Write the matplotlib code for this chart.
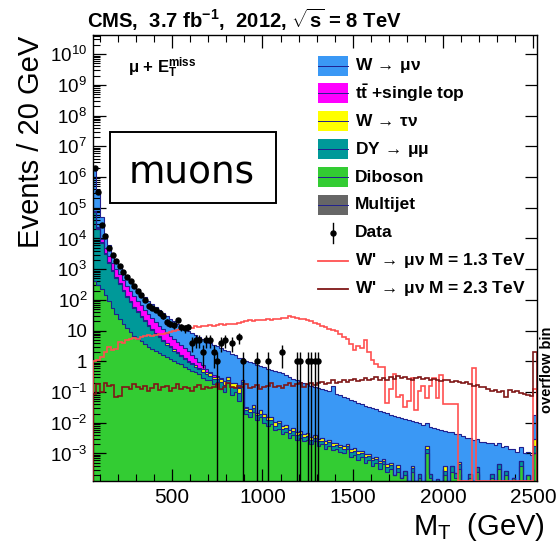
import numpy as np
import matplotlib
matplotlib.use("Agg")
import matplotlib.pyplot as plt
from matplotlib.patches import Rectangle
from matplotlib.lines import Line2D
from matplotlib.ticker import (FixedLocator, FixedFormatter, MultipleLocator,
                               LogLocator, NullFormatter)

plt.rcParams['font.family'] = ['Liberation Sans', 'DejaVu Sans']
plt.rcParams['mathtext.fontset'] = 'custom'
plt.rcParams['mathtext.rm'] = 'Liberation Sans'
plt.rcParams['mathtext.it'] = 'Liberation Sans:italic'
plt.rcParams['mathtext.bf'] = 'Liberation Sans:bold'
plt.rcParams['mathtext.default'] = 'regular'

NA = np.nan

# 20 GeV bins from 60 to 2500 GeV, plus the overflow bin shown at 2500-2520 GeV
bin_edges = np.append(np.arange(60, 2501, 20), 2520)

# Expected events per bin, stored as log10(events); NA = empty bin.
# Rows of ten bins: 60, 260, 460, 660, 860, 1060, 1260, 1460, 1660, 1860, 2060, 2260, 2460(+overflow)
wmunu_log = [
    6.23, 5.47, 4.61, 3.97, 3.53, 3.20, 3.00, 2.82, 2.66, 2.53,
    2.38, 2.25, 2.13, 2.01, 1.89, 1.78, 1.69, 1.585, 1.50, 1.40,
    1.32, 1.24, 1.17, 1.10, 1.02, 0.95, 0.885, 0.83, 0.78, 0.71,
    0.66, 0.61, 0.55, 0.50, 0.44, 0.39, 0.33, 0.25, 0.20, 0.13,
    0.07, 0.00, -0.01, -0.04, -0.08, -0.12, -0.16, -0.19, -0.26, -0.28,
    -0.32, -0.37, -0.40, -0.47, -0.52, -0.58, -0.62, -0.68, -0.72, -0.75,
    -0.80, -0.84, -0.87, -0.92, -0.94, -0.97, -0.82, -1.07, -1.12, -1.17,
    -1.20, -1.26, -1.30, -1.36, -1.40, -1.45, -1.50, -1.53, -1.58, -1.62,
    -1.66, -1.70, -1.76, -1.78, -1.82, -1.86, -1.89, -1.91, -1.96, -1.99,
    -2.02, -2.06, -2.09, -2.14, -2.18, -2.22, -2.25, -2.30, -2.31, -2.35,
    -2.38, -2.42, -2.44, -2.50, -2.53, -2.55, -2.58, -2.63, -2.64, -2.67,
    -2.70, -2.73, -2.75, -2.80, -2.83, -2.86, -2.90, -2.94, -2.95, -2.98,
    -3.02, -3.06, -1.82,
]
ttbar_log = [
    3.50, 3.42, 3.30, 3.14, 2.97, 2.80, 2.64, 2.51, 2.35, 2.20,
    2.04, 1.89, 1.72, 1.57, 1.42, 1.29, 1.14, 1.02, 0.90, 0.78,
    0.67, 0.55, 0.45, 0.34, 0.24, 0.13, 0.03, -0.13, -0.30, -0.49,
    -0.70, -0.93, -1.80, -1.50, -1.60, -1.70, -1.80, -2.00, -2.00, -2.20,
    -2.20, -2.50, -3.00, NA, NA, NA, NA, NA, NA, NA,
] + [NA] * 73
wtaunu_log = [
    3.60, 3.20, 2.80, 2.45, 2.15, 1.90, 1.65, 1.45, 1.25, 1.05,
    0.88, 0.70, 0.55, 0.40, 0.25, 0.10, 0.00, -0.15, -0.25, -0.35,
    -0.45, -0.55, -0.65, -0.75, -0.85, -0.92, -1.00, -1.05, -1.10, -1.15,
    -1.00, -1.20, -1.05, -1.30, -1.30, -1.20, -1.30, -1.25, -1.30, -1.35,
    -1.30, -1.40, -2.30, -2.30, -2.20, -2.40, -2.20, -2.30, -2.50, -2.50,
    -2.60, -2.70, -2.80, -2.80, -2.90, -2.90, -3.00, -3.00, -3.10, -3.10,
    -3.20, -3.20, -3.30, -3.30, -3.35, -3.40, -3.40, -3.45, -3.50, -3.50,
    -3.55, -3.60, -3.60, -3.65, -3.70, -3.75, -3.80, -3.85, -3.90, -3.95,
    -4.00, -4.00, -4.10, NA, -4.10, NA, NA, NA, -4.20, NA,
    NA, NA, -3.50, NA, -4.10, NA, NA, -3.90, NA, NA,
    NA, -4.00, NA, NA, NA, NA, NA, NA, NA, NA,
    NA, NA, NA, NA, NA, NA, NA, NA, NA, NA,
    NA, NA, -2.90,
]
dy_log = [
    4.85, 4.29, 3.84, 3.48, 3.17, 2.92, 2.69, 2.47, 2.26, 2.05,
    1.87, 1.69, 1.53, 1.38, 1.21, 1.05, 0.90, 0.76, 0.62, 0.47,
    0.33, 0.21, 0.08, -0.04, -0.16, -0.28, -0.42, -0.53, -0.65, -0.76,
    -0.75, -0.85, -1.08, -1.05, -1.25, -1.10, -1.15, -1.30, -1.20, -1.30,
    -1.40, -1.50, -2.20, -2.20, -2.10, -2.30, -2.40, -2.30, -2.40, -2.50,
    -2.60, -2.50, -2.70, -2.80, -2.80, -2.80, -2.90, -2.90, -3.00, -3.00,
    -3.10, -3.10, -3.10, -3.20, -3.20, -3.20, -3.30, -3.30, -3.35, -3.40,
    -3.40, -3.45, -3.50, -3.50, -3.60, -3.60, -3.70, -3.70, -3.80, -3.80,
    -3.90, -4.00, -4.00, NA, -4.10, NA, -4.20, NA, -4.10, NA,
    -4.30, NA, -3.40, -4.20, NA, -4.30, NA, -4.10, NA, -3.90,
    -4.10, -3.90, NA, NA, -4.20, NA, -4.00, NA, NA, NA,
    -4.30, NA, -3.90, NA, -4.10, NA, NA, NA, -3.80, NA,
    NA, NA, -3.10,
]
diboson_log = [
    2.60, 2.50, 2.35, 2.15, 1.95, 1.75, 1.55, 1.38, 1.22, 1.08,
    0.95, 0.84, 0.74, 0.65, 0.56, 0.48, 0.40, 0.33, 0.26, 0.20,
    0.14, 0.08, 0.02, -0.04, -0.10, -0.17, -0.24, -0.30, -0.36, -0.42,
    -0.55, -0.62, -0.60, -0.75, -0.68, -0.90, -1.00, -0.70, -1.10, -1.00,
    -1.30, -0.75, -1.70, -1.80, -1.65, -1.90, -1.80, -2.00, -2.10, -2.05,
    -2.25, -2.20, -2.35, -2.30, -2.50, -2.40, -2.55, -2.50, -2.60, -2.55,
    -2.70, -2.60, -2.75, -2.70, -2.85, -2.75, -2.90, -2.85, -2.95, -3.00,
    -2.85, -3.10, -3.05, -3.20, -3.10, -3.30, -3.20, -3.40, -3.30, -3.50,
    -3.35, -3.60, -3.50, -3.70, -3.60, -3.80, -3.70, -3.90, -3.60, -3.90,
    -3.80, -4.20, -3.00, -3.80, NA, -4.00, NA, -3.70, NA, -3.60,
    -3.80, -3.50, NA, NA, -3.80, NA, -3.60, NA, -4.00, NA,
    -3.80, NA, -3.50, NA, -3.70, NA, -3.80, NA, -3.40, NA,
    -3.70, NA, -3.00,
]
multijet_log = [-4.5, -4.8] + [NA] * 121

# W' signal shapes, log10(events)
wprime13_log = [
    0.00, 0.05, 0.14, 0.30, 0.47, 0.36, 0.40, 0.63, 0.60, 0.68,
    0.72, 0.75, 0.74, 0.78, 0.82, 0.85, 0.83, 0.86, 0.88, 0.90,
    0.92, 0.95, 0.98, 1.02, 1.06, 1.05, 1.08, 1.10, 1.14, 1.12,
    1.15, 1.14, 1.17, 1.16, 1.18, 1.20, 1.19, 1.22, 1.23, 1.21,
    1.25, 1.28, 1.30, 1.34, 1.32, 1.34, 1.36, 1.34, 1.37, 1.36,
    1.39, 1.38, 1.40, 1.42, 1.46, 1.44, 1.42, 1.39, 1.37, 1.34,
    1.32, 1.25, 1.20, 1.15, 1.12, 1.06, 1.02, 0.98, 0.90, 0.80,
    0.74, 0.55, 0.36, 0.50, 0.42, 0.68, 0.30, 0.03, -0.10, -0.19,
    -0.20, -1.37, -0.90, -0.40, -1.16, -1.10, -1.50, -1.30, -0.55, -1.60,
    -0.95, -0.80, -1.20, -0.80, -0.55, -1.20, -0.46, -1.40, -1.40, -1.40,
    -1.40, NA, NA, NA, NA, -0.23, NA, NA, NA, NA,
    NA, NA, NA, NA, NA, NA, NA, NA, NA, NA,
    NA, NA, -0.90,
]
wprime23_log = [
    -1.05, -0.75, -1.00, -0.72, -0.80, -0.78, -1.15, -1.12, -0.85, -0.82,
    -0.90, -0.75, -0.85, -0.90, -0.80, -0.95, -0.88, -0.75, -0.92, -0.85,
    -0.80, -0.95, -0.88, -0.75, -0.90, -0.82, -0.86, -0.95, -0.85, -0.78,
    -0.90, -0.82, -0.88, -0.85, -0.75, -0.90, -0.85, -0.72, -0.82, -0.88,
    -0.80, -0.85, -0.75, -0.88, -0.82, -0.78, -0.90, -0.85, -0.80, -0.72,
    -0.85, -0.80, -0.88, -0.78, -0.72, -0.80, -0.75, -0.70, -0.82, -0.75,
    -0.70, -0.78, -0.72, -0.68, -0.75, -0.70, -0.62, -0.72, -0.66, -0.60,
    -0.68, -0.62, -0.58, -0.65, -0.60, -0.55, -0.62, -0.57, -0.52, -0.60,
    -0.55, -0.62, -0.50, -0.58, -0.48, -0.55, -0.50, -0.56, -0.60, -0.55,
    -0.52, -0.58, -0.55, -0.62, -0.58, -0.60, -0.65, -0.60, -0.62, -0.68,
    -0.63, -0.66, -0.72, -0.68, -0.75, -0.80, -0.78, -0.85, -0.82, -0.90,
    -0.95, -0.92, -1.00, -0.95, -1.15, -0.92, -1.00, -0.98, -1.02, -1.05,
    -1.10, -1.12, 0.30,
]

# Observed events per bin
data_counts = [
    1900000, 320000, 28000, 11700, 5000, 2800, 1860, 1230, 810, 560,
    400, 275, 190, 141, 98, 63, 55, 46, 37, 30,
    19, 17, 15, 22, 13, 12, 13, 4, 5, 5,
    2, 5, 5, 2, 1, 4, 5, 0, 4, 0,
    6, 1, 0, 0, 0, 1, 0, 0, 1, 0,
    0, 0, 2, 0, 0, 0, 1, 1, 0, 1,
    1, 1, 1, 0, 0, 0, 0, 0, 0, 0,
] + [0] * 53


def events(log_values):
    return np.nan_to_num(10.0 ** np.asarray(log_values, dtype=float), nan=0.0)


W, H = 558, 548
fig = plt.figure(figsize=(W / 100, H / 100), dpi=100)
ax = fig.add_axes([92.7 / W, 1 - 480.7 / H, (537 - 92.7) / W, (480.7 - 35) / H])

YLO, YHI = 1.3e-4, 4.2e10
ax.set_xlim(60, 2520)
ax.set_yscale('log')
ax.set_ylim(YLO, YHI)

OUTLINE = '#20208f'
stack = [
    (events(multijet_log), '#666666'),
    (events(diboson_log), '#33cc33'),
    (events(dy_log), '#009999'),
    (events(wtaunu_log), '#ffff00'),
    (events(ttbar_log), '#ff00ff'),
    (events(wmunu_log), '#3a98f5'),
]
floor = 1e-7
cum = np.zeros(len(bin_edges) - 1)
tops = []
for vals, color in stack:
    lower = cum
    cum = cum + vals
    ax.stairs(np.maximum(cum, floor), bin_edges, baseline=np.maximum(lower, floor),
              fill=True, facecolor=color, edgecolor='none', lw=0, zorder=1)
    tops.append(cum.copy())
for top in tops:
    ax.stairs(np.maximum(top, floor), bin_edges, baseline=None,
              color=OUTLINE, lw=0.8, zorder=2)

# signal hypotheses
RED, DARKRED = '#ff5050', '#7f1717'
ax.stairs(np.maximum(events(wprime13_log), YLO), bin_edges, baseline=YLO,
          color=RED, lw=1.2, zorder=3)
ax.stairs(np.maximum(events(wprime23_log), YLO), bin_edges, baseline=YLO,
          color=DARKRED, lw=1.2, zorder=3)

# data with Poisson-like errors
n = np.asarray(data_counts, dtype=float)
centers = 0.5 * (bin_edges[:-1] + bin_edges[1:])
m = n > 0
err = np.sqrt(n[m])
lo = n[m] - np.maximum(n[m] - err, 1e-8)
ax.errorbar(centers[m], n[m], yerr=[lo, err], fmt='o', color='black', ms=3.6,
            elinewidth=1.0, capsize=0, zorder=4)

# axes styling
decades = np.arange(-3, 11)
ylabels = []
for d in decades:
    if d == 0:
        ylabels.append('1')
    elif d == 1:
        ylabels.append('10')
    else:
        ylabels.append('10$^{%d}$' % d)
ax.yaxis.set_major_locator(FixedLocator(10.0 ** decades))
ax.yaxis.set_major_formatter(FixedFormatter(ylabels))
ax.yaxis.set_minor_locator(LogLocator(base=10, subs=np.arange(2, 10), numticks=300))
ax.yaxis.set_minor_formatter(NullFormatter())
ax.xaxis.set_major_locator(FixedLocator([500, 1000, 1500, 2000, 2500]))
ax.xaxis.set_minor_locator(MultipleLocator(100))
ax.tick_params(which='both', direction='in', top=True, right=True)
ax.tick_params(axis='y', which='minor', right=False)
ax.tick_params(which='major', length=9, width=0.9)
ax.tick_params(which='minor', length=5, width=0.8)
ax.tick_params(axis='x', labelsize=15, pad=5)
ax.tick_params(axis='y', labelsize=13.5, pad=4)
for s in ax.spines.values():
    s.set_linewidth(1.0)


def fx(x):
    return x / W


def fy(y):
    return 1 - y / H


# titles and axis labels
fig.text(fx(87), fy(28), r'CMS,  3.7 fb$^{\mathbf{-1}}$,  2012, $\sqrt{\mathbf{s}}$ = 8 TeV',
         fontsize=14.6, fontweight='bold', ha='left', va='baseline')
fig.text(fx(31), fy(36), 'Events / 20 GeV', fontsize=21, rotation=90,
         ha='center', va='top')
fig.text(fx(545), fy(535), r'M$_{\mathrm{T}}$  (GeV)', fontsize=21,
         ha='right', va='baseline')
fig.text(fx(128), fy(73), r'$\mu$ + E$_{\mathbf{T}}^{\mathbf{miss}}$',
         fontsize=12, fontweight='bold', ha='left', va='baseline')
fig.text(fx(547), fy(370), 'overflow bin', fontsize=10.5, fontweight='bold',
         rotation=90, ha='center', va='center')

# channel tag
fig.add_artist(Rectangle((fx(110), fy(203)), 166 / W, 71 / H, transform=fig.transFigure,
                         facecolor='white', edgecolor='black', lw=1.4, zorder=5))
fig.text(fx(192), fy(183), 'muons', fontsize=27, family='DejaVu Sans',
         ha='center', va='baseline', zorder=6)

# legend
entries = [
    (r'W$\,\rightarrow\,\mu\nu$', 'fill', '#3a98f5'),
    (r'$\mathbf{t}\bar{\mathbf{t}}$ +single top', 'fill', '#ff00ff'),
    (r'W$\,\rightarrow\,\tau\nu$', 'fill', '#ffff00'),
    (r'DY$\,\rightarrow\,\mu\mu$', 'fill', '#009999'),
    ('Diboson', 'fill', '#33cc33'),
    ('Multijet', 'fill', '#666666'),
    ('Data', 'data', 'black'),
    (r"W'$\,\rightarrow\,\mu\nu$ M = 1.3 TeV", 'line', RED),
    (r"W'$\,\rightarrow\,\mu\nu$ M = 2.3 TeV", 'line', DARKRED),
]
y0, step = 65.5, 27.9
for i, (label, kind, color) in enumerate(entries):
    yc = y0 + i * step
    if kind == 'fill':
        fig.add_artist(Rectangle((fx(318), fy(yc + 10)), 30 / W, 20 / H,
                                 transform=fig.transFigure, facecolor=color,
                                 edgecolor='none', zorder=5))
        fig.add_artist(Line2D([fx(318), fx(348)], [fy(yc), fy(yc)],
                              transform=fig.transFigure, color=OUTLINE, lw=0.7, zorder=6))
    elif kind == 'data':
        fig.add_artist(Line2D([fx(333), fx(333)], [fy(yc - 10), fy(yc + 10)],
                              transform=fig.transFigure, color='black', lw=1.0, zorder=6))
        fig.add_artist(Line2D([fx(333)], [fy(yc)], transform=fig.transFigure,
                              marker='o', ms=3.6, color='black', zorder=6))
    else:
        fig.add_artist(Line2D([fx(318), fx(348)], [fy(yc), fy(yc)],
                              transform=fig.transFigure, color=color, lw=1.3, zorder=6))
    fig.text(fx(355), fy(yc), label, fontsize=12.5, fontweight='bold',
             ha='left', va='center', zorder=6)

fig.savefig('out.png', dpi=100)
